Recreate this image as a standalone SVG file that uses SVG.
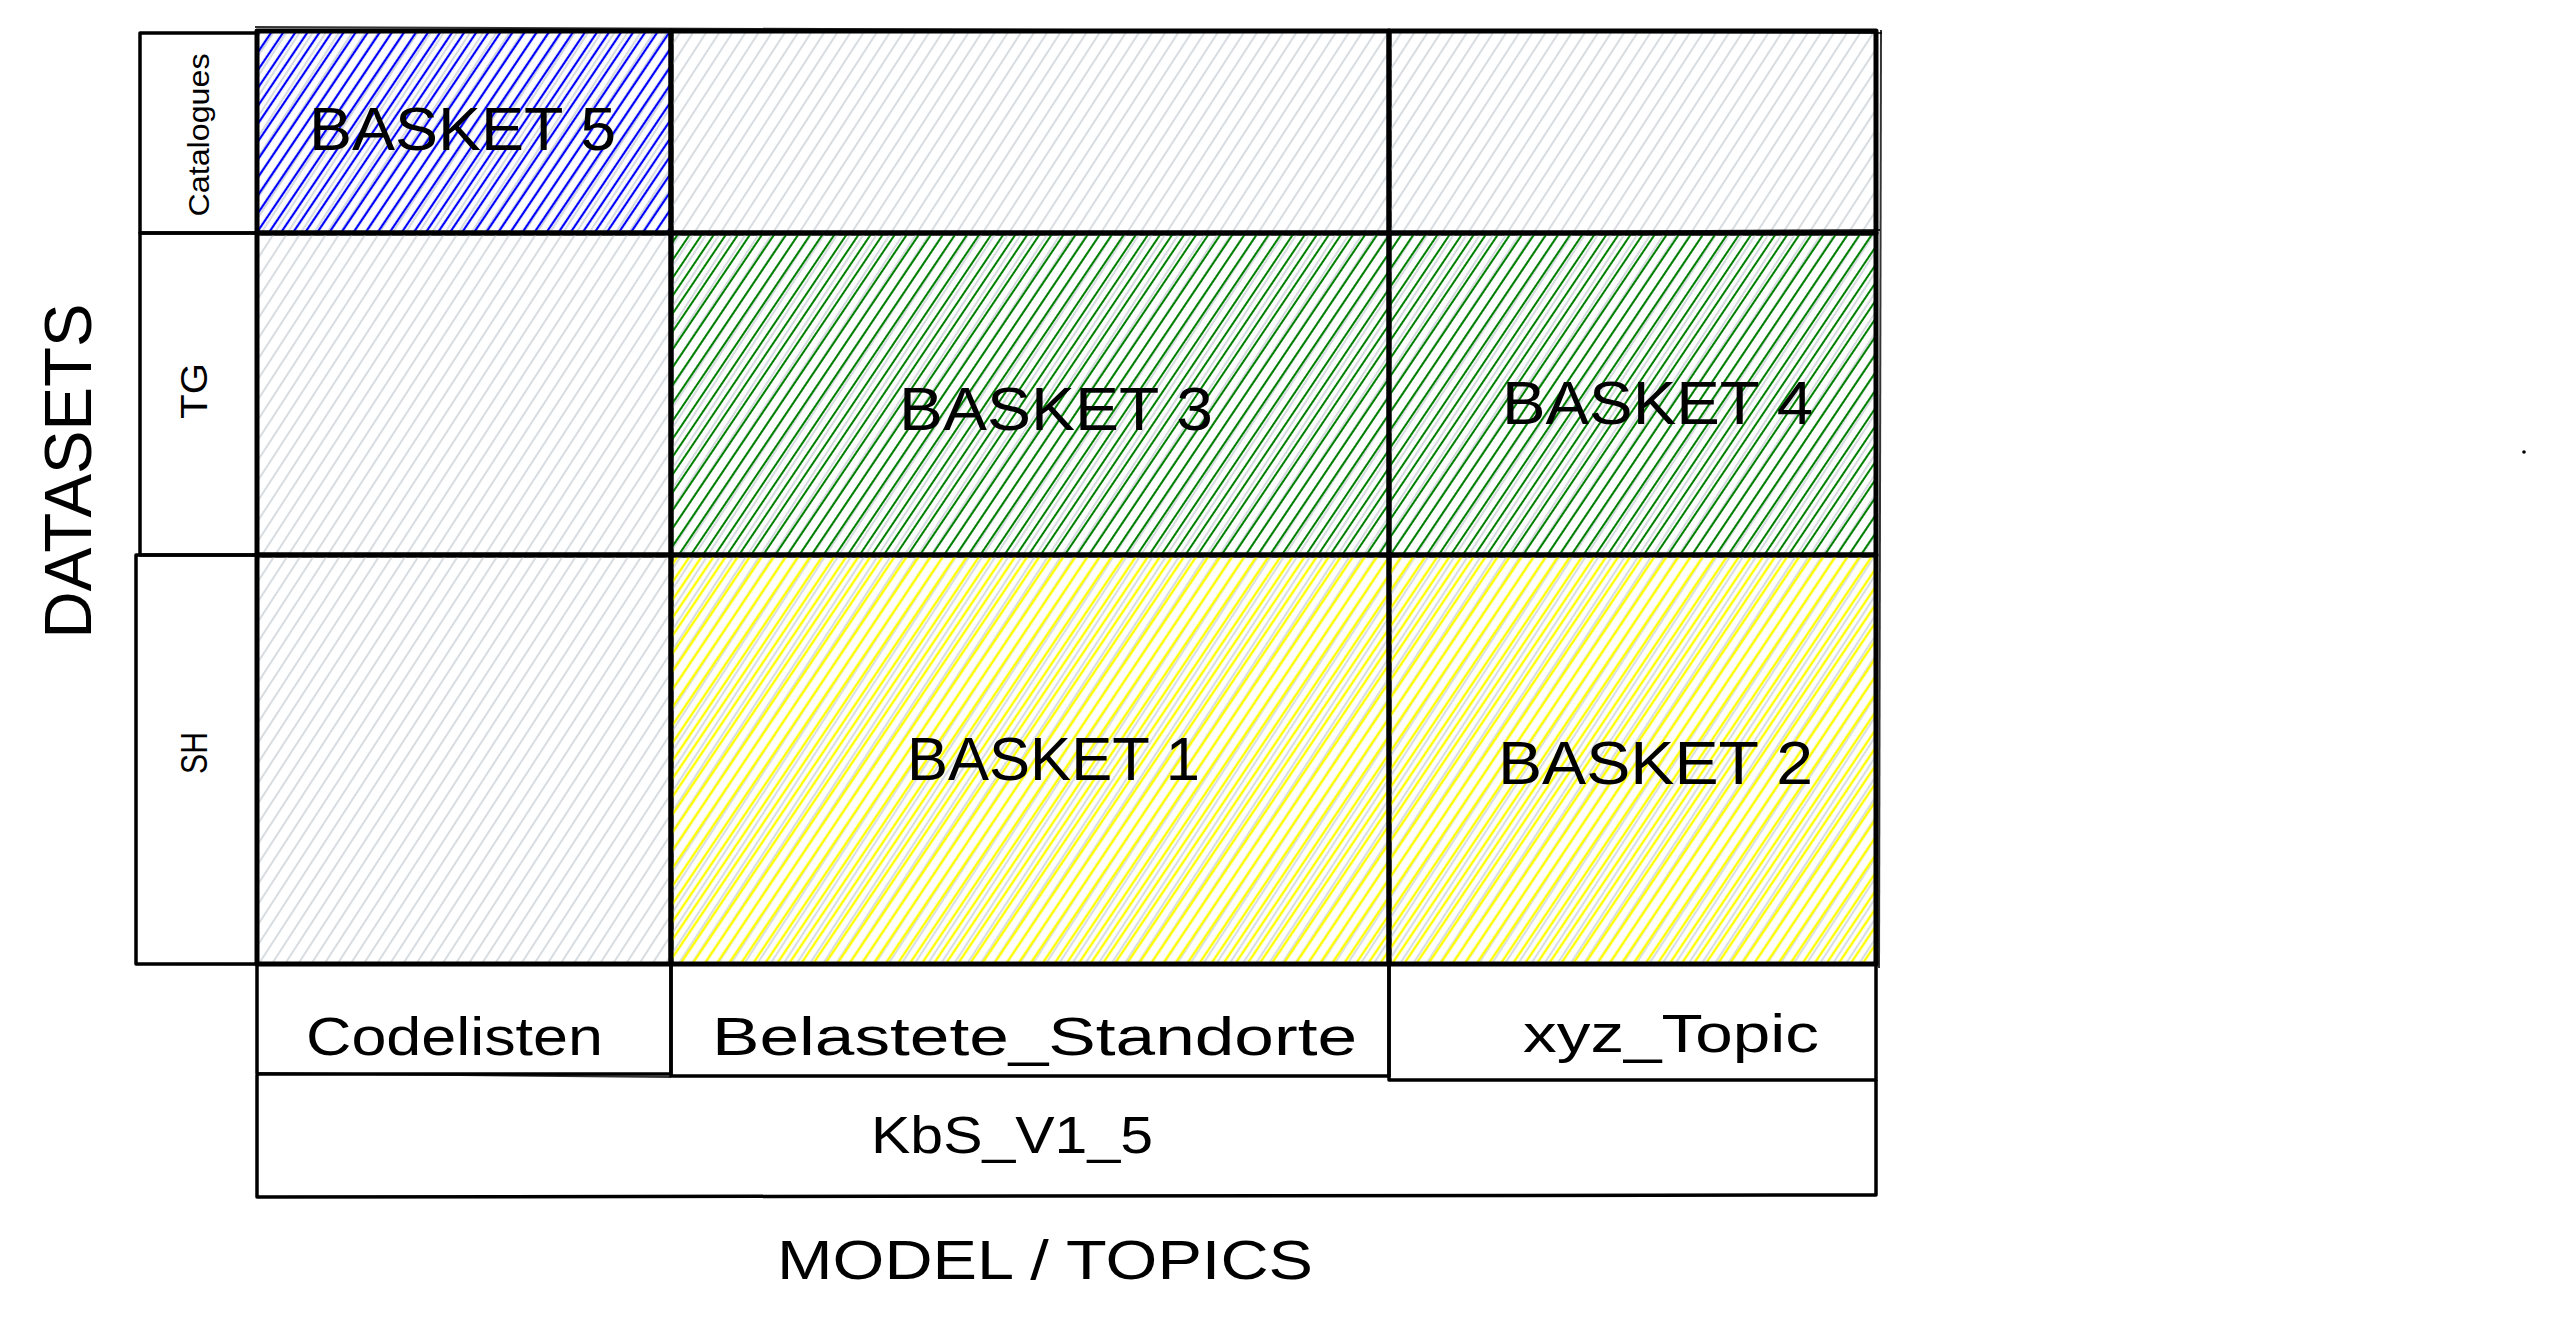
<svg xmlns="http://www.w3.org/2000/svg" width="2554" height="1327" viewBox="0 0 2554 1327">
  <style>
    .t { font-family: "Liberation Sans", "DejaVu Sans", sans-serif; fill: #000; }
    .basket { font-size: 62px; }
    .topic { font-size: 54px; }
    .cell { stroke: #000; stroke-width: 5; fill: none; stroke-linejoin: round; }
    .box { stroke: #000; stroke-width: 3.5; fill: none; stroke-linejoin: round; }
    .sk { stroke: #000; stroke-width: 2; fill: none; opacity: 0.8; }
  </style>
  <defs>
    <pattern id="hGrey" patternUnits="userSpaceOnUse" width="11" height="20" patternTransform="rotate(33)">
      <line x1="5" y1="-2" x2="5" y2="22" stroke="#ced4da" stroke-width="1.6"/>
    </pattern>
    <pattern id="hBlue" patternUnits="userSpaceOnUse" width="10" height="20" patternTransform="rotate(34)">
      <line x1="3" y1="-2" x2="3" y2="22" stroke="#0000ff" stroke-width="2.2"/>
    </pattern>
    <pattern id="hGreen" patternUnits="userSpaceOnUse" width="10" height="20" patternTransform="rotate(34)">
      <line x1="3" y1="-2" x2="3" y2="22" stroke="#008000" stroke-width="2"/>
    </pattern>
    <pattern id="hYellow" patternUnits="userSpaceOnUse" width="10" height="20" patternTransform="rotate(34)">
      <line x1="3" y1="-2" x2="3" y2="22" stroke="#ffff00" stroke-width="2.4"/>
    </pattern>
  </defs>

  <rect x="0" y="0" width="2554" height="1327" fill="#ffffff"/>

  <!-- axis labels -->
  <g id="label-datasets">
    <text class="t" font-size="66" text-anchor="middle" textLength="335" lengthAdjust="spacingAndGlyphs" transform="translate(67,471) rotate(-90)" y="24">DATASETS</text>
  </g>
  <g id="label-model-topics">
    <text class="t" font-size="56" x="777" y="1279" textLength="536" lengthAdjust="spacingAndGlyphs">MODEL / TOPICS</text>
  </g>

  <!-- dataset row labels -->
  <g id="ds-catalogues">
    <rect class="box" x="140" y="33" width="117" height="200"/>
    <text class="t" font-size="30" text-anchor="middle" textLength="163" lengthAdjust="spacingAndGlyphs" transform="translate(199,135) rotate(-90)" y="10">Catalogues</text>
  </g>
  <g id="ds-tg">
    <rect class="box" x="140" y="233" width="117" height="322"/>
    <text class="t" font-size="36" text-anchor="middle" textLength="56" lengthAdjust="spacingAndGlyphs" transform="translate(194,391) rotate(-90)" y="13">TG</text>
  </g>
  <g id="ds-sh">
    <rect class="box" x="136" y="555" width="121" height="409"/>
    <text class="t" font-size="36" text-anchor="middle" textLength="42" lengthAdjust="spacingAndGlyphs" transform="translate(194,753) rotate(-90)" y="13">SH</text>
  </g>

  <!-- grid cells -->
  <g id="cell-catalogues-codelisten">
    <rect x="257" y="31" width="414" height="202" fill="url(#hGrey)"/>
    <rect x="257" y="31" width="414" height="202" fill="url(#hBlue)"/>
    <rect class="cell" x="257" y="31" width="414" height="202"/>
    <text class="t basket" x="309" y="150" textLength="307" lengthAdjust="spacingAndGlyphs">BASKET 5</text>
  </g>
  <g id="cell-catalogues-belastete">
    <rect x="671" y="31" width="718" height="202" fill="url(#hGrey)"/>
    <rect class="cell" x="671" y="31" width="718" height="202"/>
  </g>
  <g id="cell-catalogues-xyz">
    <rect x="1389" y="31" width="487" height="202" fill="url(#hGrey)"/>
    <rect class="cell" x="1389" y="31" width="487" height="202"/>
  </g>

  <g id="cell-tg-codelisten">
    <rect x="257" y="233" width="414" height="322" fill="url(#hGrey)"/>
    <rect class="cell" x="257" y="233" width="414" height="322"/>
  </g>
  <g id="cell-tg-belastete">
    <rect x="671" y="233" width="718" height="322" fill="url(#hGrey)"/>
    <rect x="671" y="233" width="718" height="322" fill="url(#hGreen)"/>
    <rect class="cell" x="671" y="233" width="718" height="322"/>
    <text class="t basket" x="899" y="430" textLength="314" lengthAdjust="spacingAndGlyphs">BASKET 3</text>
  </g>
  <g id="cell-tg-xyz">
    <rect x="1389" y="233" width="487" height="322" fill="url(#hGrey)"/>
    <rect x="1389" y="233" width="487" height="322" fill="url(#hGreen)"/>
    <rect class="cell" x="1389" y="233" width="487" height="322"/>
    <text class="t basket" x="1502" y="424" textLength="311" lengthAdjust="spacingAndGlyphs">BASKET 4</text>
  </g>

  <g id="cell-sh-codelisten">
    <rect x="257" y="555" width="414" height="409" fill="url(#hGrey)"/>
    <rect class="cell" x="257" y="555" width="414" height="409"/>
  </g>
  <g id="cell-sh-belastete">
    <rect x="671" y="555" width="718" height="409" fill="url(#hGrey)"/>
    <rect x="671" y="555" width="718" height="409" fill="url(#hYellow)"/>
    <rect class="cell" x="671" y="555" width="718" height="409"/>
    <text class="t basket" x="907" y="780" textLength="293" lengthAdjust="spacingAndGlyphs">BASKET 1</text>
  </g>
  <g id="cell-sh-xyz">
    <rect x="1389" y="555" width="487" height="409" fill="url(#hGrey)"/>
    <rect x="1389" y="555" width="487" height="409" fill="url(#hYellow)"/>
    <rect class="cell" x="1389" y="555" width="487" height="409"/>
    <text class="t basket" x="1498" y="784" textLength="315" lengthAdjust="spacingAndGlyphs">BASKET 2</text>
  </g>

  <!-- topic row -->
  <g id="topic-codelisten">
    <rect class="box" x="257" y="964" width="414" height="110"/>
    <text class="t topic" x="306" y="1055" textLength="297" lengthAdjust="spacingAndGlyphs">Codelisten</text>
  </g>
  <g id="topic-belastete">
    <rect class="box" x="671" y="964" width="718" height="112"/>
    <text class="t topic" x="712" y="1055" textLength="645" lengthAdjust="spacingAndGlyphs">Belastete_Standorte</text>
  </g>
  <g id="topic-xyz">
    <rect class="box" x="1389" y="964" width="487" height="116"/>
    <text class="t topic" x="1523" y="1052" textLength="296" lengthAdjust="spacingAndGlyphs">xyz_Topic</text>
  </g>

  <!-- model row -->
  <g id="model-kbs">
    <path class="box" d="M257 1075 L257 1197 L1876 1195 L1876 1080"/>
    <text class="t" font-size="52" x="871" y="1153" textLength="282" lengthAdjust="spacingAndGlyphs">KbS_V1_5</text>
  </g>

  <!-- sketchy overdraw strokes -->
  <g id="connectors">
    <path class="sk" d="M255 27 L1882 33"/>
    <path class="sk" d="M1881 30 L1879 968"/>
    <path class="sk" d="M1383 233 L1880 230"/>
    <path class="sk" d="M140 964 L675 965"/>
    <path class="sk" d="M257 1073 L671 1077"/>
  </g>

  <circle id="stray-dot" cx="2524" cy="452" r="1.8" fill="#000"/>
</svg>
